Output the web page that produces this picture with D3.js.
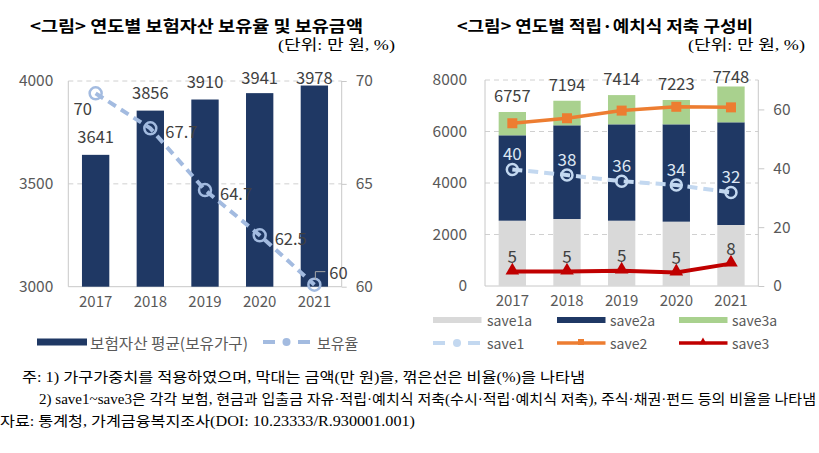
<!DOCTYPE html>
<html><head><meta charset="utf-8">
<script src="https://cdn.jsdelivr.net/npm/d3@7"></script>
<style>
html,body{margin:0;padding:0;background:#fff;}
svg{display:block;}
</style></head>
<body>
<svg id="c" width="819" height="453"></svg>
<script>
// ---------- DATA ----------
const years = ["2017","2018","2019","2020","2021"];
// left chart
const insAvg = [3641, 3856, 3910, 3941, 3978];          // 보험자산 평균(보유가구)
const insRate = [69.4, 67.7, 64.7, 62.5, 60.1];          // 보유율
const insRateLabels = ["70", "67.7", "64.7", "62.5", "60"];
const leftTicksA = [3000, 3500, 4000];
const leftTicksB = [60, 65, 70];
// right chart
const save1a = [2536, 2602, 2536, 2498, 2369];
const save2a = [3316, 3638, 3742, 3780, 3988];
const save3a = [905, 954, 1136, 945, 1391];
const saveTotals = [6757, 7194, 7414, 7223, 7748];
const save1 = [39.6, 37.7, 35.6, 34.3, 31.8];
const save2 = [55.3, 57.0, 59.6, 60.9, 60.7];
const save3 = [4.9, 4.9, 5.2, 4.6, 7.6];
const rightTicksA = [0, 2000, 4000, 6000, 8000];
const rightTicksB = [0, 20, 40, 60];

const title1 = "<그림> 연도별 보험자산 보유율 및 보유금액";
const title2 = "<그림> 연도별 적립·예치식 저축 구성비";
const unitText = "(단위: 만 원, %)";
const legend1 = ["보험자산 평균(보유가구)", "보유율"];
const legend2 = ["save1a", "save2a", "save3a", "save1", "save2", "save3"];
const notes = [
  "주: 1) 가구가중치를 적용하였으며, 막대는 금액(만 원)을, 꺾은선은 비율(%)을 나타냄",
  "2) save1~save3은 각각 보험, 현금과 입출금 자유·적립·예치식 저축(수시·적립·예치식 저축), 주식·채권·펀드 등의 비율을 나타냄",
  "자료: 통계청, 가계금융복지조사(DOI: 10.23333/R.930001.001)"
];

// ---------- STYLE ----------
const C = {
  navy: "#1f3864", gray: "#d9d9d9", green: "#a9d18e", orange: "#ed7d31",
  red: "#c00000", lb1: "#a3bbe0", lb2: "#c3d8f0", axis: "#c8c8c8", grid: "#d0d0d0",
  tick: "#595959", lab: "#404040"
};
const FONT = "'Noto Sans CJK KR','Noto Sans',sans-serif";
const SERIF = "'Liberation Serif','DejaVu Serif','Noto Sans CJK KR',serif";
const numFmt = d3.format("d");

const svg = d3.select("#c");

function txt(g, x, y, s, o) {
  const t = g.append("text").attr("x", x).attr("y", y).text(s)
    .attr("dominant-baseline", "central")
    .attr("font-family", o.family || FONT)
    .attr("font-size", o.size || 15)
    .attr("fill", o.fill || "#000");
  if (o.weight) t.attr("font-weight", o.weight);
  if (o.anchor) t.attr("text-anchor", o.anchor);
  if (o.len) t.attr("textLength", o.len).attr("lengthAdjust", "spacingAndGlyphs");
  return t;
}
// ---------- TITLES ----------
txt(svg, 30, 25, title1, {size: 16, weight: 700, len: 333});
txt(svg, 278, 45, unitText, {size: 15, family: SERIF, len: 117});
txt(svg, 457, 25, title2, {size: 16, weight: 700, len: 296});
txt(svg, 688, 45, unitText, {size: 15, family: SERIF, len: 117});

function styleAxis(a, size) {
  a.select(".domain").remove();
  a.selectAll("line").attr("stroke", C.axis);
  a.selectAll("text").attr("font-family", FONT).attr("font-size", size || 15.5).attr("fill", C.tick);
}

// ---------- LEFT CHART ----------
(function () {
  const L = 68.3, R = 341.7, T = 81, B = 286.7;
  const g = svg.append("g");
  const x = d3.scaleBand().domain(years).range([L, R]).paddingInner(0.5).paddingOuter(0.25);
  const y = d3.scaleLinear().domain([3000, 4000]).range([B, T]);
  const y2 = d3.scaleLinear().domain([60, 70]).range([B, T]);
  const cx = d => x(d) + x.bandwidth() / 2;

  g.selectAll(".grid").data(leftTicksA.filter(v => v !== 3000)).join("line")
    .attr("x1", L).attr("x2", R).attr("y1", d => y(d)).attr("y2", d => y(d))
    .attr("stroke", C.grid).attr("stroke-dasharray", "5,4");
  g.append("line").attr("x1", L).attr("x2", R).attr("y1", B).attr("y2", B).attr("stroke", C.axis);
  g.append("line").attr("x1", L).attr("x2", L).attr("y1", T).attr("y2", B).attr("stroke", C.axis);
  g.append("line").attr("x1", R).attr("x2", R).attr("y1", T).attr("y2", B).attr("stroke", C.axis);

  styleAxis(g.append("g").attr("transform", `translate(${L},0)`)
    .call(d3.axisLeft(y).tickValues(leftTicksA).tickFormat(numFmt).tickSize(0).tickPadding(15)));
  styleAxis(g.append("g").attr("transform", `translate(${R},0)`)
    .call(d3.axisRight(y2).tickValues(leftTicksB).tickFormat(numFmt).tickSize(5).tickPadding(9)));
  styleAxis(g.append("g").attr("transform", `translate(0,${B})`)
    .call(d3.axisBottom(x).tickSize(0).tickPadding(10)), 15);

  g.selectAll(".bar").data(years).join("rect")
    .attr("x", d => x(d)).attr("width", x.bandwidth())
    .attr("y", (d, i) => y(insAvg[i])).attr("height", (d, i) => B - y(insAvg[i]))
    .attr("fill", C.navy);
  g.selectAll(".bl").data(years).join("text")
    .attr("x", d => cx(d)).attr("y", (d, i) => Math.max(y(insAvg[i]) - 19, 77))
    .attr("text-anchor", "middle").attr("dominant-baseline", "central")
    .attr("font-family", FONT).attr("font-size", 16.5).attr("fill", C.lab)
    .text((d, i) => insAvg[i]);

  const line = d3.line().x((d, i) => cx(years[i])).y(d => y2(d));
  g.append("path").datum(insRate).attr("d", line).attr("fill", "none")
    .attr("stroke", C.lb1).attr("stroke-width", 4).attr("stroke-dasharray", "9,6");
  g.selectAll(".pt").data(insRate).join("circle")
    .attr("cx", (d, i) => cx(years[i])).attr("cy", d => y2(d)).attr("r", 6)
    .attr("fill", "none").attr("stroke", C.lb1).attr("stroke-width", 2.5);
  insRate.forEach((v, i) => {
    const px = cx(years[i]), py = y2(v);
    let lx, ly, anchor = "start";
    if (i === 0) { lx = px - 13; ly = py + 15; anchor = "middle"; }
    else if (i === insRate.length - 1) {
      lx = px + 15; ly = py - 13;
      g.append("path").attr("d", `M${px + 1},${py - 5}V${ly}H${px + 11}`)
        .attr("fill", "none").attr("stroke", "#a6a6a6").attr("stroke-width", 1);
    }
    else { lx = px + 15; ly = py + 3; }
    g.append("text").attr("x", lx).attr("y", ly).attr("text-anchor", anchor)
      .attr("dominant-baseline", "central").attr("font-family", FONT)
      .attr("font-size", 16.5).attr("fill", C.lab).text(insRateLabels[i]);
  });

  const lg = svg.append("g");
  lg.append("rect").attr("x", 37).attr("y", 338.5).attr("width", 50).attr("height", 7).attr("fill", C.navy);
  txt(lg, 90, 342, legend1[0], {size: 15, fill: C.tick, len: 158});
  lg.append("line").attr("x1", 263).attr("x2", 310).attr("y1", 342).attr("y2", 342)
    .attr("stroke", C.lb1).attr("stroke-width", 4).attr("stroke-dasharray", "12,23");
  lg.append("circle").attr("cx", 286.5).attr("cy", 342).attr("r", 4).attr("fill", C.lb1);
  txt(lg, 317, 342, legend1[1], {size: 15, fill: C.tick});
})();

// ---------- RIGHT CHART ----------
(function () {
  const L = 485, R = 758.3, T = 80, B = 286;
  const g = svg.append("g");
  const x = d3.scaleBand().domain(years).range([L, R]).paddingInner(0.5).paddingOuter(0.25);
  const y = d3.scaleLinear().domain([0, 8000]).range([B, T]);
  const y2 = d3.scaleLinear().domain([0, 70]).range([B, T]);
  const cx = d => x(d) + x.bandwidth() / 2;

  g.selectAll(".grid").data(rightTicksA.filter(v => v !== 0)).join("line")
    .attr("x1", L).attr("x2", R).attr("y1", d => y(d)).attr("y2", d => y(d))
    .attr("stroke", C.grid).attr("stroke-dasharray", "5,4");
  g.append("line").attr("x1", L).attr("x2", R).attr("y1", B).attr("y2", B).attr("stroke", C.axis);
  g.append("line").attr("x1", L).attr("x2", L).attr("y1", T).attr("y2", B).attr("stroke", C.axis);
  g.append("line").attr("x1", R).attr("x2", R).attr("y1", T).attr("y2", B).attr("stroke", C.axis);

  styleAxis(g.append("g").attr("transform", `translate(${L},0)`)
    .call(d3.axisLeft(y).tickValues(rightTicksA).tickFormat(numFmt).tickSize(0).tickPadding(18)));
  styleAxis(g.append("g").attr("transform", `translate(${R},0)`)
    .call(d3.axisRight(y2).tickValues(rightTicksB).tickFormat(numFmt).tickSize(6).tickPadding(9)));
  styleAxis(g.append("g").attr("transform", `translate(0,${B})`)
    .call(d3.axisBottom(x).tickSize(0).tickPadding(9)), 15);

  const rows = years.map((yr, i) => ({year: yr, save1a: save1a[i], save2a: save2a[i], save3a: save3a[i]}));
  const keys = ["save1a", "save2a", "save3a"];
  const colors = {save1a: C.gray, save2a: C.navy, save3a: C.green};
  const stack = d3.stack().keys(keys)(rows);
  g.selectAll(".layer").data(stack).join("g").attr("fill", d => colors[d.key])
    .selectAll("rect").data(d => d).join("rect")
    .attr("x", d => x(d.data.year)).attr("width", x.bandwidth())
    .attr("y", d => y(d[1])).attr("height", d => y(d[0]) - y(d[1]));

  g.selectAll(".tl").data(years).join("text")
    .attr("x", d => cx(d)).attr("y", (d, i) => Math.max(y(saveTotals[i]) - 17, 76))
    .attr("text-anchor", "middle").attr("dominant-baseline", "central")
    .attr("font-family", FONT).attr("font-size", 16.5).attr("fill", C.lab)
    .text((d, i) => saveTotals[i]);

  const line = d3.line().x((d, i) => cx(years[i])).y(d => y2(d));
  g.append("path").datum(save1).attr("d", line).attr("fill", "none")
    .attr("stroke", C.lb2).attr("stroke-width", 4).attr("stroke-dasharray", "10,6");
  g.selectAll(".p1").data(save1).join("circle")
    .attr("cx", (d, i) => cx(years[i])).attr("cy", d => y2(d)).attr("r", 5.5)
    .attr("fill", "none").attr("stroke", C.lb2).attr("stroke-width", 2.5);
  const fmt = d3.format(".0f");
  g.selectAll(".l1").data(save1).join("text")
    .attr("x", (d, i) => cx(years[i])).attr("y", d => y2(d) - 17)
    .attr("text-anchor", "middle").attr("dominant-baseline", "central")
    .attr("font-family", FONT).attr("font-size", 17).attr("fill", "#dde7f3")
    .text(d => fmt(d));
  g.append("path").datum(save2).attr("d", line).attr("fill", "none")
    .attr("stroke", C.orange).attr("stroke-width", 3.5);
  g.selectAll(".p2").data(save2).join("rect")
    .attr("x", (d, i) => cx(years[i]) - 5).attr("y", d => y2(d) - 5)
    .attr("width", 10).attr("height", 10).attr("fill", C.orange);
  g.append("path").datum(save3).attr("d", line).attr("fill", "none")
    .attr("stroke", C.red).attr("stroke-width", 4);
  const tri = d3.symbol().type(d3.symbolTriangle).size(80);
  g.selectAll(".p3").data(save3).join("path")
    .attr("d", tri).attr("transform", (d, i) => `translate(${cx(years[i])},${y2(d) - 1})`)
    .attr("fill", C.red);
  g.selectAll(".l3").data(save3).join("text")
    .attr("x", (d, i) => cx(years[i])).attr("y", d => y2(d) - 16)
    .attr("text-anchor", "middle").attr("dominant-baseline", "central")
    .attr("font-family", FONT).attr("font-size", 17).attr("fill", C.lab)
    .text(d => fmt(d));

  const lg = svg.append("g");
  const cols = [433, 557, 679];
  const tx = [487, 610, 732];
  const r1 = 320, r2 = 343;
  [C.gray, C.navy, C.green].forEach((c, i) => {
    lg.append("rect").attr("x", cols[i]).attr("y", r1 - 3).attr("width", 48.5).attr("height", 6).attr("fill", c);
    txt(lg, tx[i], r1, legend2[i], {size: 14, fill: C.tick});
  });
  lg.append("line").attr("x1", cols[0]).attr("x2", cols[0] + 48.5).attr("y1", r2).attr("y2", r2)
    .attr("stroke", C.lb2).attr("stroke-width", 4).attr("stroke-dasharray", "12,23");
  lg.append("circle").attr("cx", cols[0] + 24).attr("cy", r2).attr("r", 4).attr("fill", C.lb2);
  txt(lg, tx[0], r2, legend2[3], {size: 14, fill: C.tick});
  lg.append("line").attr("x1", cols[1]).attr("x2", cols[1] + 48.5).attr("y1", r2).attr("y2", r2)
    .attr("stroke", C.orange).attr("stroke-width", 3.5);
  lg.append("rect").attr("x", cols[1] + 21).attr("y", r2 - 4).attr("width", 6).attr("height", 6).attr("fill", C.orange);
  txt(lg, tx[1], r2, legend2[4], {size: 14, fill: C.tick});
  lg.append("line").attr("x1", cols[2]).attr("x2", cols[2] + 48.5).attr("y1", r2).attr("y2", r2)
    .attr("stroke", C.red).attr("stroke-width", 3.5);
  lg.append("path").attr("d", d3.symbol().type(d3.symbolTriangle).size(25))
    .attr("transform", `translate(${cols[2] + 24},${r2 - 1})`).attr("fill", C.red);
  txt(lg, tx[2], r2, legend2[5], {size: 14, fill: C.tick});
})();

// ---------- NOTES ----------
const ng = svg.append("g");
txt(ng, 22, 377, notes[0], {size: 14, family: SERIF, len: 563});
txt(ng, 39, 399, notes[1], {size: 14, family: SERIF, len: 777});
txt(ng, 0, 421, notes[2], {size: 14, family: SERIF, len: 415});
</script>
</body></html>
